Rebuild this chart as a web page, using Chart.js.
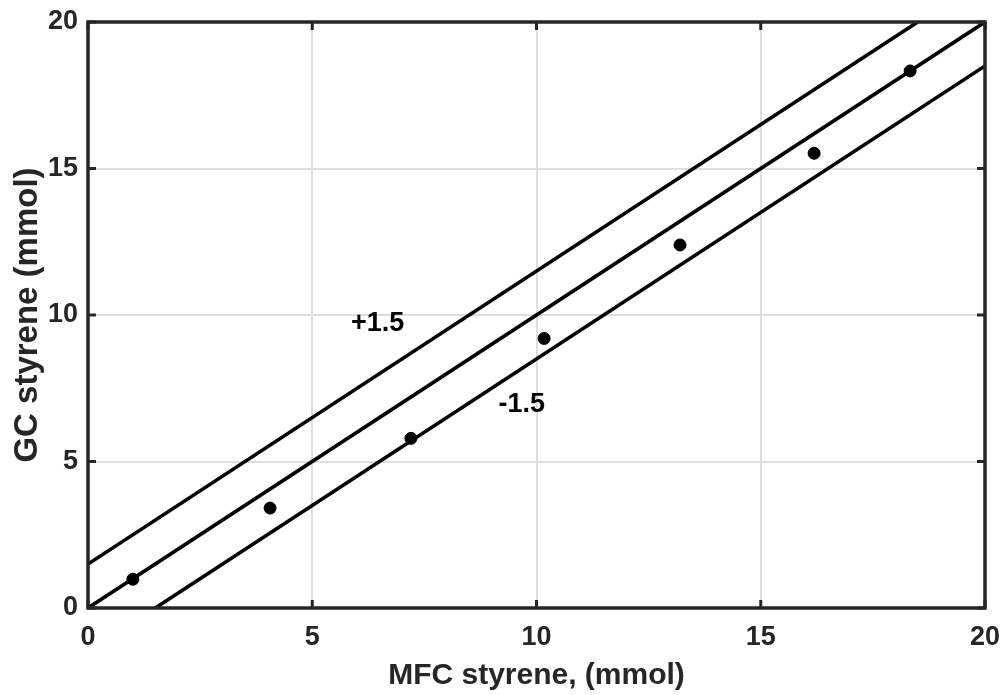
<!DOCTYPE html>
<html>
<head>
<meta charset="utf-8">
<script src="https://cdn.jsdelivr.net/npm/chart.js@4/dist/chart.umd.min.js"></script>
<style>
html,body{margin:0;padding:0;background:#fff;}
#wrap{width:1003px;height:695px;}
</style>
</head>
<body>
<div id="wrap"><canvas id="c" width="1003" height="695"></canvas></div>
<script>
const mfcStyrene = [1.0, 4.06, 7.2, 10.17, 13.2, 16.19, 18.33];
const gcStyrene  = [0.98, 3.41, 5.79, 9.2, 12.39, 15.52, 18.33];
const idealX = [0, 20];
const idealY = [0, 20];
const upperX = [0, 18.5];
const upperY = [1.5, 20];
const lowerX = [1.5, 20];
const lowerY = [0, 18.5];
const tickValues = [0, 5, 10, 15, 20];
const annotations = [
  {text: '+1.5', x: 6.46, y: 9.7},
  {text: '-1.5', x: 9.67, y: 6.95}
];

const FONT = '"Liberation Sans", Arial, Helvetica, sans-serif';
const pts = (xs, ys) => xs.map((x, i) => ({x: x, y: ys[i]}));

const framePlugin = {
  id: 'frame',
  afterDatasetsDraw(chart) {
    const ctx = chart.ctx, a = chart.chartArea;
    const xs = chart.scales.x, ys = chart.scales.y;
    ctx.save();
    ctx.strokeStyle = '#262626';
    ctx.lineWidth = 3;
    tickValues.forEach(v => {
      const px = xs.getPixelForValue(v);
      ctx.beginPath(); ctx.moveTo(px, a.bottom); ctx.lineTo(px, a.bottom - 8); ctx.stroke();
      ctx.beginPath(); ctx.moveTo(px, a.top); ctx.lineTo(px, a.top + 8); ctx.stroke();
      const py = ys.getPixelForValue(v);
      ctx.beginPath(); ctx.moveTo(a.left, py); ctx.lineTo(a.left + 8, py); ctx.stroke();
      ctx.beginPath(); ctx.moveTo(a.right, py); ctx.lineTo(a.right - 8, py); ctx.stroke();
    });
    ctx.lineWidth = 3.5;
    ctx.strokeRect(a.left, a.top, a.right - a.left, a.bottom - a.top);
    ctx.fillStyle = '#000';
    ctx.font = 'bold 27px ' + FONT;
    ctx.textAlign = 'center';
    ctx.textBaseline = 'middle';
    annotations.forEach(an => {
      ctx.fillText(an.text, xs.getPixelForValue(an.x), ys.getPixelForValue(an.y));
    });
    ctx.restore();
  }
};

const lineDs = (data) => ({
  type: 'line', data: data, borderColor: '#000', borderWidth: 3.6,
  pointRadius: 0, fill: false, tension: 0, order: 2
});

const noPad = s => { s.paddingLeft = 0; s.paddingRight = 0; s.paddingTop = 0; s.paddingBottom = 0; };

new Chart(document.getElementById('c'), {
  type: 'scatter',
  data: {
    datasets: [
      {data: pts(mfcStyrene, gcStyrene), backgroundColor: '#000', borderColor: '#000',
       pointRadius: 6, pointHoverRadius: 6, order: 1},
      lineDs(pts(idealX, idealY)),
      lineDs(pts(upperX, upperY)),
      lineDs(pts(lowerX, lowerY))
    ]
  },
  options: {
    responsive: false,
    animation: false,
    devicePixelRatio: 1,
    layout: {padding: {left: 0, right: 18, top: 22, bottom: 0}},
    plugins: {legend: {display: false}, tooltip: {enabled: false}},
    scales: {
      x: {
        type: 'linear', min: 0, max: 20,
        afterBuildTicks: s => { s.ticks = tickValues.map(v => ({value: v})); },
        afterFit: s => { s.height = 87; noPad(s); },
        grid: {color: '#dedede', lineWidth: 2, drawTicks: false},
        border: {display: false},
        ticks: {color: '#262626', font: {family: FONT, size: 27, weight: 'bold'}, padding: 13, maxRotation: 0},
        title: {display: true, text: 'MFC styrene, (mmol)', color: '#262626',
                font: {family: FONT, size: 30, weight: 'bold'}, padding: {top: 0, bottom: 1}}
      },
      y: {
        type: 'linear', min: 0, max: 20,
        afterBuildTicks: s => { s.ticks = tickValues.map(v => ({value: v})); },
        afterFit: s => { s.width = 88; noPad(s); },
        grid: {color: '#dedede', lineWidth: 2, drawTicks: false},
        border: {display: false},
        ticks: {color: '#262626', font: {family: FONT, size: 27, weight: 'bold'}, padding: 10},
        title: {display: true, text: 'GC styrene (mmol)', color: '#262626',
                font: {family: FONT, size: 33, weight: 'bold'}, padding: {top: 8, bottom: 0}}
      }
    }
  },
  plugins: [framePlugin]
});
</script>
</body>
</html>
